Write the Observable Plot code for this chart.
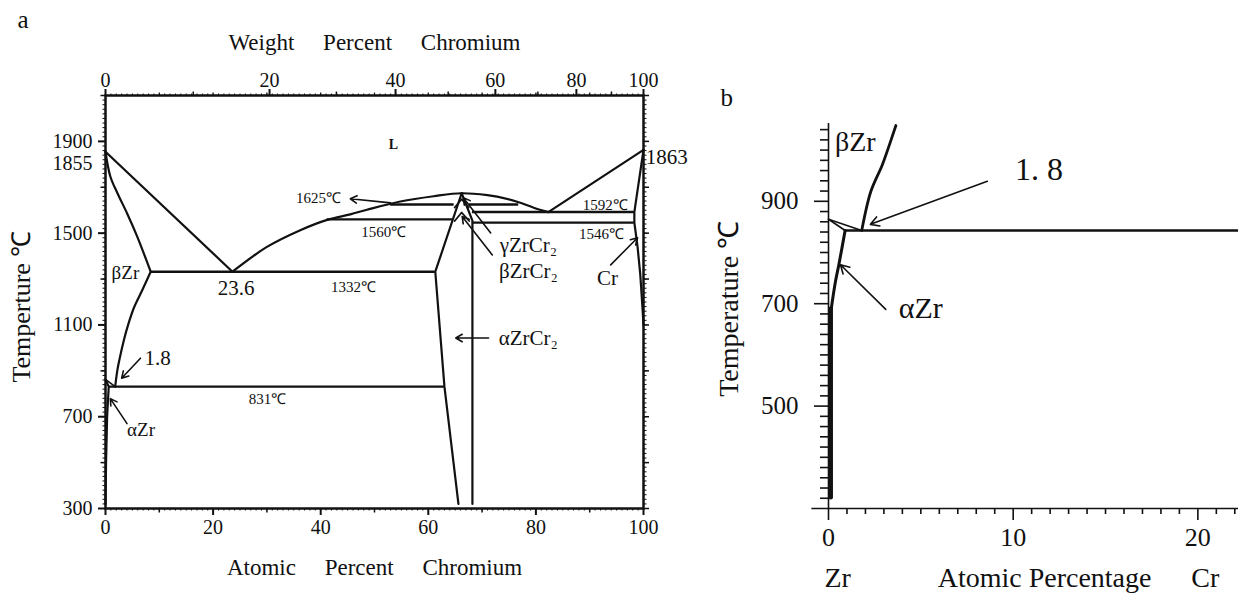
<!DOCTYPE html>
<html><head><meta charset="utf-8">
<script src="https://cdn.jsdelivr.net/npm/d3@7"></script>
<script src="https://cdn.jsdelivr.net/npm/@observablehq/plot@0.6"></script>
<style>
html,body{margin:0;padding:0;background:#fff;}
#wrap{position:relative;width:1238px;height:594px;overflow:hidden;background:#fff;}
#pa{position:absolute;left:0;top:0;}
#pb{position:absolute;left:700px;top:0;}
#wrap svg, #wrap svg text{font-family:'Liberation Serif','Times New Roman',serif;}
</style></head><body>
<div id="wrap"><div id="pa"></div><div id="pb"></div></div>
<script>
// ================= DATA : panel a (atomic % Cr , temperature °C) =================
const atTicks = [0, 20, 40, 60, 80, 100];
const wtTicks = [0, 20, 40, 60, 80, 100];
const tempTicksA = [300, 700, 1100, 1500, 1900];
const liqZrSide   = [[0,1855],[23.6,1332]];
const solidusBZr  = [[0,1855],[0.9,1747],[2.2,1675],[4,1587],[5.9,1485],[8.4,1332]];
const solvusBZr   = [[8.4,1332],[6.8,1250],[5.3,1176],[4.2,1100],[3.4,1032],[2.6,950],[2.2,902],[1.8,831]];
const liqLaves    = [[23.6,1332],[30,1440],[36.2,1513],[41.2,1558],[45.5,1582],[48.6,1602],[54.8,1638],[61,1661],[66.2,1674],[71,1666],[72.8,1659],[76.5,1637],[79.6,1611],[82.3,1592]];
const liqCrSide   = [[82.3,1592],[100,1863]];
const solidusCr   = [[100,1863],[98.3,1592],[98.3,1546],[98.9,1440],[99.4,1320],[99.8,1180],[100,1100]];
const lavesLeft   = [[66.2,1674],[61.3,1332],[63,831],[65.6,320]];
const lavesRight  = [[66.2,1674],[68.2,1555],[68.2,320]];
const chevronGamma= [[64.9,1612],[66.2,1648],[67.5,1612]];
const chevronBeta = [[64.9,1553],[66.2,1590],[67.6,1553]];
const aZrBetaA    = [[0,863],[1.8,831]];
const aZrAlphaA   = [[0,863],[0.6,831],[0.3,700],[0.1,500],[0,320]];
// isotherms: [temperature, from at%, to at%]
const isothermsA  = [[1625,53,64.8],[1625,67.6,76.8],[1560,41.2,64.6],[1592,68.2,98.3],[1546,68.2,98.3],[1332,8.4,61.3],[831,0.6,63]];
// annotations: [text, at%, °C]
const labelsBigA  = [["23.6",24.3,1262],["1.8",9.7,955],["Cr",93.3,1303],["αZrCr₂",78.6,1043],["γZrCr₂",78.6,1449],["βZrCr₂",78.6,1335]];
const labelsMidA  = [["βZr",3.7,1327],["αZr",6.6,641]];
const labelsDegA  = [["1625℃",39.6,1654],["1560℃",51.7,1506],["1332℃",46.1,1265],["831℃",30.1,776],["1592℃",92.9,1624],["1546℃",92.2,1497]];
const labelL      = [["L",53.5,1887]];
const label1863   = [["1863",100.4,1829]];
const label1855   = [["1855",0,1804]];
// arrows: [x1,T1,x2,T2]
const arrowsA = [[53,1632,45.5,1650],[71.6,1501,66.5,1654],[71.9,1405,66.3,1573],[71.2,1043,65.1,1043],[93.9,1362,98.9,1480],[6.5,955,3.0,868],[4.0,670,0.9,779]];

// ================= DATA : panel b =================
const tempTicksB = [500, 700, 900];
const atTicksB   = [0, 10, 20];
const bZrB       = [[3.65,1048],[3.2,1000],[2.9,970],[2.3,920],[1.8,843]];
const wedgeUpper = [[0,865],[1.8,843]];
const wedgeLower = [[0,865],[0.9,843]];
const eutectoidB = [[0.9,843],[22.2,843]];
const aZrB       = [[0.9,843],[0.56,776],[0.38,744],[0.25,715],[0.15,690]];
const aZrLowB    = [[0.12,690],[0.12,322]];
const labelsB    = [["βZr",0.35,1015],["1. 8",11.4,962],["αZr",5.0,691]];
const arrowsB    = [[8.6,939,2.27,855],[3.1,689,0.65,776]];
const bottomB    = [["Zr",0.5],["Atomic Percentage",11.7],["Cr",20.4]];

// ================= helpers =================
const serif = "Liberation Serif";
const sans = "Liberation Sans";
const INK = "#111";
const MZr = 91.224, MCr = 51.996;
const wt2at = w => w <= 0 ? 0 : 100 * (w / MCr) / (w / MCr + (100 - w) / MZr);
const ln = (pts, w = 2.2, curve = "linear") => Plot.line(pts, {x: d => d[0], y: d => d[1], stroke: INK, strokeWidth: w, curve});
const txt = (arr, opts) => Plot.text(arr, {x: d => d[1], y: d => d[2], text: d => d[0], fill: INK, fontFamily: serif, ...opts});
const blank = () => "";
const plain = d => String(d);
const GAP = "\u2003 ";

// ================= panel a =================
const chartA = Plot.plot({
  width: 700, height: 594,
  marginLeft: 105, marginRight: 57, marginTop: 95, marginBottom: 86,
  x: {domain: [0, 100]}, y: {domain: [300, 2100]},
  style: {fontFamily: serif, fontSize: "20px", color: INK, background: "transparent", overflow: "visible"},
  marks: [
    // fine ticks
    Plot.axisX({anchor: "bottom", ticks: d3.range(0, 101, 1), tickSize: 2.5, tickFormat: blank, label: null, strokeWidth: 1}),
    Plot.axisX({anchor: "top", ticks: d3.range(0, 101, 1), tickSize: 2.5, tickFormat: blank, label: null, strokeWidth: 1}),
    Plot.axisY({anchor: "left", ticks: d3.range(300, 2101, 20), tickSize: 2.5, tickFormat: blank, label: null, strokeWidth: 1}),
    Plot.axisY({anchor: "right", ticks: d3.range(300, 2101, 20), tickSize: 2.5, tickFormat: blank, label: null, strokeWidth: 1}),
    // medium ticks
    Plot.axisX({anchor: "bottom", ticks: d3.range(10, 100, 20), tickSize: 4.5, tickFormat: blank, label: null, strokeWidth: 1.5}),
    Plot.axisX({anchor: "top", ticks: d3.range(10, 100, 20).map(wt2at), tickSize: 4.5, tickFormat: blank, label: null, strokeWidth: 1.5}),
    Plot.axisX({anchor: "top", ticks: d3.range(10, 100, 10), tickSize: 3.5, tickFormat: blank, label: null, strokeWidth: 1.2}),
    Plot.axisY({anchor: "left", ticks: d3.range(500, 2101, 400), tickSize: 4.5, tickFormat: blank, label: null, strokeWidth: 1.5}),
    Plot.axisY({anchor: "right", ticks: d3.range(300, 2101, 200), tickSize: 5, tickFormat: blank, label: null, strokeWidth: 1.5}),
    // major ticks with labels
    Plot.axisX({anchor: "bottom", ticks: atTicks, tickSize: 7, tickPadding: 4, tickFormat: plain, fontSize: 20, fontFamily: serif, label: null, strokeWidth: 2}),
    Plot.axisX({anchor: "top", ticks: wtTicks.map(wt2at), tickSize: 7, tickFormat: blank, label: null, strokeWidth: 2}),
    Plot.text(wtTicks, {x: d => wt2at(d), text: plain, frameAnchor: "top", dy: -15, lineAnchor: "middle", fontSize: 20, fontFamily: serif, fill: INK}),
    Plot.axisY({anchor: "left", ticks: tempTicksA, tickSize: 7, tickPadding: 6, tickFormat: plain, fontSize: 20, fontFamily: serif, label: null, strokeWidth: 2}),
    Plot.text(label1855, {x: d => d[1], y: d => d[2], text: d => d[0], textAnchor: "end", dx: -13, fontSize: 20, fontFamily: serif, fill: INK}),
    Plot.frame({stroke: INK, strokeWidth: 2.5}),
    // axis titles & panel letter
    Plot.text(["Weight" + GAP + "Percent" + GAP + "Chromium"], {frameAnchor: "top", textAnchor: "middle", dy: -53, lineAnchor: "middle", fontSize: 23, fontFamily: serif, fill: INK}),
    Plot.text(["Atomic" + GAP + "Percent" + GAP + "Chromium"], {frameAnchor: "bottom", textAnchor: "middle", dy: 59, lineAnchor: "middle", fontSize: 23, fontFamily: serif, fill: INK}),
    Plot.text(["Temperture \u2103"], {x: -15.6, y: 1180, rotate: -90, textAnchor: "middle", lineAnchor: "middle", fontSize: 26, fontFamily: serif, fill: INK}),
    Plot.text(["a"], {frameAnchor: "top-left", dx: -88, dy: -76, lineAnchor: "middle", fontSize: 25, fontFamily: sans, fill: INK}),
    // phase boundaries
    ln(liqZrSide), ln(solidusBZr, 2.2, "catmull-rom"), ln(solvusBZr, 2.2, "catmull-rom"),
    ln(liqLaves, 2.2, "catmull-rom"), ln(liqCrSide), ln(solidusCr, 2.2, "linear"),
    ln(lavesLeft), ln(lavesRight), ln(chevronGamma, 1.8), ln(chevronBeta, 1.8),
    ln(aZrBetaA, 1.6), ln(aZrAlphaA, 2.2),
    Plot.ruleY(isothermsA, {y: d => d[0], x1: d => d[1], x2: d => d[2], stroke: INK, strokeWidth: 2.4}),
    // arrows
    Plot.arrow(arrowsA, {x1: d => d[0], y1: d => d[1], x2: d => d[2], y2: d => d[3], stroke: INK, strokeWidth: 1.6, headLength: 7}),
    // annotations
    txt(labelsBigA, {fontSize: 21}),
    txt(labelsMidA, {fontSize: 19}),
    txt(labelsDegA, {fontSize: 15}),
    txt(labelL, {fontSize: 14, fontWeight: "bold"}),
    txt(label1863, {fontSize: 21, textAnchor: "start"})
  ]
});
document.getElementById("pa").append(chartA);

// ================= panel b =================
const chartB = Plot.plot({
  width: 538, height: 594,
  marginLeft: 128, marginRight: 0, marginTop: 124, marginBottom: 86,
  x: {domain: [0, 22.2]}, y: {domain: [300, 1050]},
  style: {fontFamily: serif, fontSize: "25px", color: INK, background: "transparent", overflow: "visible"},
  marks: [
    Plot.axisY({anchor: "left", ticks: d3.range(320, 1041, 20).filter(t => !tempTicksB.includes(t)), tickSize: 8, tickFormat: blank, label: null, strokeWidth: 1.6}),
    Plot.axisY({anchor: "left", ticks: tempTicksB, tickSize: 14, tickPadding: 16, tickFormat: plain, fontSize: 25, fontFamily: serif, label: null, strokeWidth: 1.6}),
    Plot.axisX({anchor: "bottom", ticks: d3.range(1, 23, 1).filter(t => !atTicksB.includes(t)), tickSize: 6, tickFormat: blank, label: null, strokeWidth: 1.6}),
    Plot.axisX({anchor: "bottom", ticks: atTicksB, tickSize: 12, tickPadding: 7, tickFormat: plain, fontSize: 26, fontFamily: serif, label: null, strokeWidth: 1.6}),
    Plot.ruleX([0], {y1: 300, y2: 1052, stroke: INK, strokeWidth: 1.6}),
    Plot.ruleY([300], {x1: -0.9, x2: 22.2, stroke: INK, strokeWidth: 1.6}),
    Plot.text(bottomB, {x: d => d[1], text: d => d[0], frameAnchor: "bottom", textAnchor: "middle", dy: 70, lineAnchor: "middle", fontSize: 28, fontFamily: serif, fill: INK}),
    Plot.text(["Temperature \u2103"], {x: -5.36, y: 690, rotate: -90, textAnchor: "middle", lineAnchor: "middle", fontSize: 28, fontFamily: serif, fill: INK}),
    Plot.text(["b"], {frameAnchor: "top-left", dx: -108, dy: -27, lineAnchor: "middle", fontSize: 25, fontFamily: sans, fill: INK}),
    ln(bZrB, 2.8, "catmull-rom"), ln(wedgeUpper, 1.6), ln(wedgeLower, 1.6),
    ln(eutectoidB, 2.6), ln(aZrB, 3, "catmull-rom"), ln(aZrLowB, 4.5),
    Plot.arrow(arrowsB, {x1: d => d[0], y1: d => d[1], x2: d => d[2], y2: d => d[3], stroke: INK, strokeWidth: 1.6, headLength: 9}),
    Plot.text(labelsB.filter(d => d[0] === "βZr"), {x: d => d[1], y: d => d[2], text: d => d[0], textAnchor: "start", fontSize: 28, fontFamily: serif, fill: INK}),
    Plot.text(labelsB.filter(d => d[0] === "1. 8"), {x: d => d[1], y: d => d[2], text: d => d[0], fontSize: 32, fontFamily: serif, fill: INK}),
    Plot.text(labelsB.filter(d => d[0] === "αZr"), {x: d => d[1], y: d => d[2], text: d => d[0], fontSize: 30, fontFamily: serif, fill: INK})
  ]
});
document.getElementById("pb").append(chartB);
</script>
</body></html>
